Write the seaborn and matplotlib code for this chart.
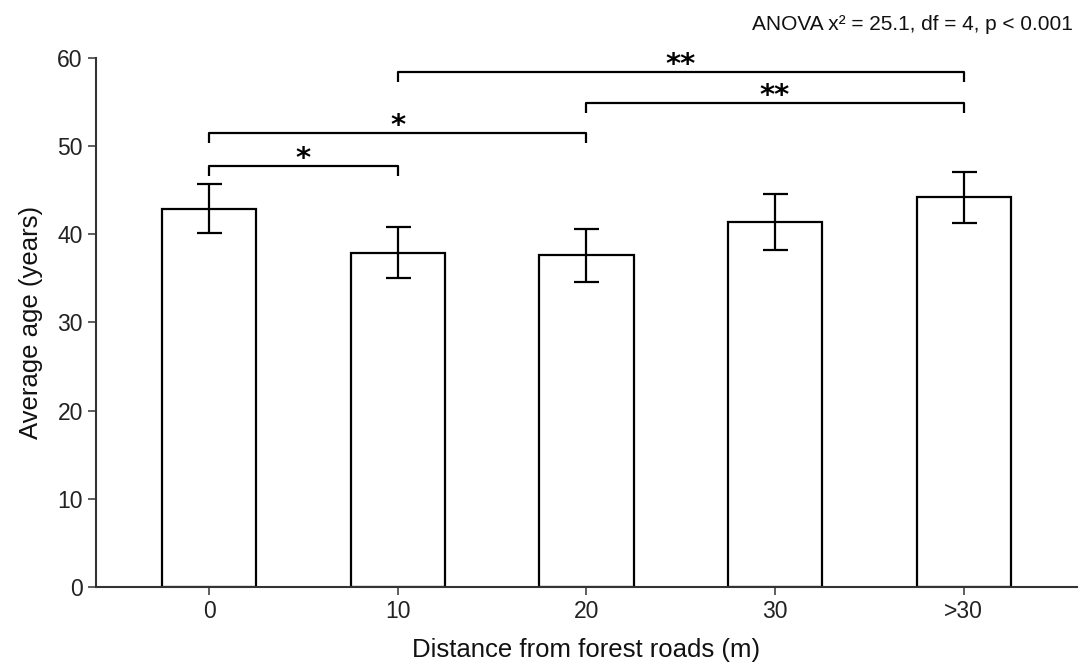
import matplotlib
matplotlib.use("Agg")
import matplotlib.pyplot as plt
import seaborn as sns
import pandas as pd

categories = ["0", "10", "20", "30", ">30"]
mean_age = [42.9, 37.9, 37.6, 41.4, 44.2]
err_age = [2.8, 2.9, 3.0, 3.2, 2.9]

# significance brackets: (from index, to index, bracket height, label)
sig_from = [0, 0, 1, 2]
sig_to = [1, 2, 4, 4]
sig_height = [47.7, 51.5, 58.4, 54.9]
sig_label = ["*", "*", "**", "**"]

annotation = "ANOVA x² = 25.1, df = 4, p < 0.001"

sns.set_theme(style="ticks")
plt.rcParams["font.family"] = ["Liberation Sans", "DejaVu Sans"]

fig = plt.figure(figsize=(10.79, 6.66), dpi=100)
ax = fig.add_axes([0.089, 0.1186, 0.909, 0.7944])

df = pd.DataFrame({"dist": categories, "age": mean_age})
sns.barplot(data=df, x="dist", y="age", order=categories, color="white",
            edgecolor="black", linewidth=1.6, width=0.5, errorbar=None, ax=ax)
for p in ax.patches:
    p.set_facecolor("white")
ax.errorbar(range(len(categories)), mean_age, yerr=err_age, fmt="none",
            ecolor="black", elinewidth=1.6, capsize=9, capthick=1.6, zorder=5)

leg = 1.1
for a, b, h, lab in zip(sig_from, sig_to, sig_height, sig_label):
    ax.plot([a, a, b, b], [h - leg, h, h, h - leg], color="black", lw=1.6,
            solid_capstyle="butt", clip_on=False)
    ax.text((a + b) / 2, h - 0.1, lab, family="DejaVu Sans",
            ha="center", va="baseline", fontsize=21, fontweight="bold",
            color="black")

ax.set_xlim(-0.6, 4.6)
ax.set_ylim(0, 60)
ax.set_yticks([0, 10, 20, 30, 40, 50, 60])
ax.set_xlabel("Distance from forest roads (m)", fontsize=18.5, color="#111111", labelpad=11)
ax.set_ylabel("Average age (years)", fontsize=18.5, color="#111111", labelpad=10)
ax.tick_params(axis="both", labelsize=16.5, colors="#444444", labelcolor="#222222",
               length=6, width=1.2)
for s in ["top", "right"]:
    ax.spines[s].set_visible(False)
for s in ["left", "bottom"]:
    ax.spines[s].set_color("#333333")
    ax.spines[s].set_linewidth(1.5)

fig.text(0.994, 0.963, annotation, ha="right", va="center", fontsize=15, color="#111111")

fig.savefig("out.png", dpi=100)
